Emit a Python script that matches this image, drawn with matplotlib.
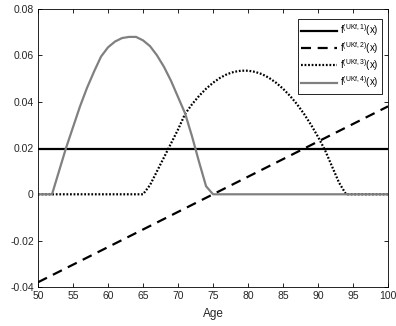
import numpy as np
import matplotlib
matplotlib.use("Agg")
import matplotlib.pyplot as plt

plt.rcParams['font.family'] = ['Liberation Sans', 'DejaVu Sans']
plt.rcParams['mathtext.fontset'] = 'custom'
plt.rcParams['mathtext.rm'] = 'Liberation Sans'
plt.rcParams['mathtext.it'] = 'Liberation Sans'

# ==== dati ====
age = list(range(50, 101))

f1 = [0.0196] * len(age)

f2_age = [50, 100]
f2 = [-0.038, 0.038]

f3 = ([0.0] * 16 +                                      # 50..65
      [0.004, 0.010, 0.016, 0.022, 0.028, 0.0347,       # 66..71
       0.0389, 0.0425, 0.0456, 0.0482, 0.0503, 0.0519,  # 72..77
       0.0529, 0.0534, 0.0534, 0.0529, 0.0519, 0.0503,  # 78..83
       0.0482, 0.0456, 0.0425, 0.0389, 0.0347, 0.0300,  # 84..89
       0.0248, 0.019, 0.012, 0.005] +                   # 90..93
      [0.0] * 7)                                        # 94..100

f4 = ([0.0] * 3 +                                       # 50..52
      [0.010, 0.020, 0.029, 0.038, 0.046, 0.053,        # 53..58
       0.0595, 0.0635, 0.066, 0.0675, 0.068, 0.068,     # 59..64
       0.0665, 0.064, 0.060, 0.055, 0.049, 0.042,       # 65..70
       0.035, 0.025, 0.014, 0.0035] +                   # 71..74
      [0.0] * 26)                                       # 75..100

labels = [r"f$^{(\mathrm{UKf},%d)}$(x)" % i for i in range(1, 5)]

fig = plt.figure(figsize=(3.96, 3.26), dpi=100)
ax = fig.add_axes([0.096, 0.12, 0.884, 0.852])

gray = (0.5, 0.5, 0.5)
ax.plot(age, f1, color='black', lw=1.6, label=labels[0])
ax.plot(f2_age, f2, color='black', lw=1.6, ls=(0, (4.5, 3)), label=labels[1])
ax.plot(age, f3, color='black', lw=1.6, ls=(0, (0.8, 0.8)), label=labels[2])
ax.plot(age, f4, color=gray, lw=1.6, label=labels[3])

ax.set_xlim(50, 100)
ax.set_ylim(-0.04, 0.08)
ax.set_xticks(range(50, 101, 5))
ax.set_yticks([-0.04, -0.02, 0, 0.02, 0.04, 0.06, 0.08])
ax.set_yticklabels(['-0.04', '-0.02', '0', '0.02', '0.04', '0.06', '0.08'])
ax.tick_params(direction='in', top=True, right=True, labelsize=7.5,
               labelcolor=(0.15, 0.15, 0.15), length=3, width=0.6, pad=3)
for s in ax.spines.values():
    s.set_linewidth(0.6)
ax.set_xlabel('Age', fontsize=8.5, color=(0.15, 0.15, 0.15), labelpad=5)

leg = ax.legend(loc='upper right', bbox_to_anchor=(0.983, 0.964), borderaxespad=0,
                fontsize=7, handlelength=3.7, handletextpad=0.3, labelspacing=0.15,
                borderpad=0.35, fancybox=False, framealpha=1, edgecolor='black')
leg.get_frame().set_linewidth(0.6)

fig.savefig('out.png', dpi=100)
